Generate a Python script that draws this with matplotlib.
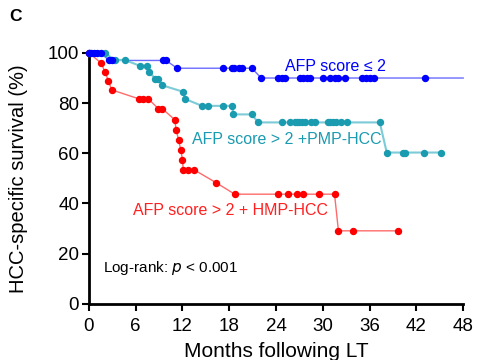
import matplotlib
matplotlib.use("Agg")
import numpy as np
import matplotlib.pyplot as plt

plt.rcParams['font.family'] = ['Liberation Sans', 'DejaVu Sans']

# AFP score <= 2
blue_t = [0, 0.3, 0.7, 1.1, 1.5, 2.6, 2.9, 9.5, 9.9, 11.3, 17.2, 18.4, 18.6, 19.3, 19.6, 20.9,
          22.1, 24.3, 24.8, 25.2, 27.1, 27.5, 28.0, 28.4, 30.0, 30.9, 31.6, 32.0, 32.9,
          35.0, 35.6, 36.1, 36.5, 43.1]
blue_s = [100, 100, 100, 100, 100, 97, 97, 97, 97, 93.9, 93.9, 93.9, 93.9, 93.9, 93.9, 93.9,
          90, 90, 90, 90, 90, 90, 90, 90, 90, 90, 90, 90, 90,
          90, 90, 90, 90, 90]
blue_end = 48

# AFP score > 2 + PMP-HCC
teal_t = [0, 2.05, 3.3, 4.6, 6.5, 7.4, 7.7, 8.5, 8.9, 9.4, 12.1, 12.3, 14.5, 15.3, 17.2, 18.4,
          18.5, 20.9, 21.7, 24.7, 25.8, 26.4, 26.7, 27.0, 27.3, 27.7, 28.5, 29.0, 30.6, 30.9,
          31.3, 31.7, 32.3, 33.1, 37.3, 38.2, 40.3, 40.6, 43.0, 45.2]
teal_s = [100, 100, 97.2, 97.2, 94.9, 94.9, 92.4, 89.8, 89.8, 87.1, 84.5, 81.7, 78.9, 78.9, 78.9, 78.9,
          75.5, 75.5, 72.3, 72.3, 72.3, 72.3, 72.3, 72.3, 72.3, 72.3, 72.3, 72.3, 72.3, 72.3,
          72.3, 72.3, 72.3, 72.3, 72.3, 60.3, 60.3, 60.3, 60.3, 60.3]

# AFP score > 2 + HMP-HCC
red_t = [0, 1.6, 2.05, 2.5, 2.9, 6.4, 7.0, 7.6, 8.9, 9.4, 11.0, 11.2, 11.5, 11.8, 12.0, 12.1,
         12.7, 13.5, 16.3, 18.7, 24.2, 25.5, 26.7, 27.5, 29.5, 31.5, 32.0, 33.9, 39.7]
red_s = [100, 95.9, 92.3, 89.0, 85.3, 81.7, 81.7, 81.7, 77.8, 77.8, 73.4, 69.3, 65.3, 61.2, 57.4, 53.4,
         53.4, 53.4, 48.3, 43.7, 43.7, 43.7, 43.7, 43.7, 43.7, 43.7, 29.1, 29.1, 29.1]

xticks = list(range(0, 49, 6))
yticks = list(range(0, 101, 20))

fig = plt.figure(figsize=(4.78, 3.6), dpi=100)
ax = fig.add_axes([0.186, 0.156, 0.783, 0.697])

# lines (lighter) then markers
ax.plot(blue_t + [blue_end], blue_s + [blue_s[-1]], color='#6a6aff', lw=1.0, zorder=2, clip_on=False)
ax.plot(teal_t, teal_s, color='#7ccbd6', lw=1.5, zorder=2, clip_on=False)
ax.plot(red_t, red_s, color='#ff6b6b', lw=1.0, zorder=2, clip_on=False)
ax.plot(teal_t, teal_s, 'o', color='#1a9bb0', ms=4.3, zorder=3, clip_on=False)
ax.plot(red_t, red_s, 'o', color='#ff0000', ms=4.3, zorder=3, clip_on=False)
ax.plot(blue_t, blue_s, 'o', color='#0000ff', ms=4.3, zorder=4, clip_on=False)

ax.text(25.2, 94.4, 'AFP score \u2264 2', color='#0000ff', fontsize=11.5, va='center')
ax.text(13.2, 65.3, 'AFP score > 2 +PMP-HCC', color='#1a9bb0', fontsize=11.5, va='center')
ax.text(5.6, 37.0, 'AFP score > 2 + HMP-HCC', color='#ff2020', fontsize=11.5, va='center')
ax.text(1.8, 14.3, 'Log-rank: $\\it{p}$ < 0.001', fontsize=11, va='center')

ax.set_xlim(0, 48)
ax.set_ylim(0, 100)
ax.set_xticks(xticks)
ax.set_yticks(yticks)
ax.spines['top'].set_visible(False)
ax.spines['right'].set_visible(False)
ax.spines['left'].set_linewidth(2)
ax.spines['bottom'].set_linewidth(2)
ax.tick_params(width=1.5, length=5, labelsize=13.5)
ax.tick_params(axis='x', pad=5.5)
ax.tick_params(axis='y', pad=2)
ax.set_xlabel('Months following LT', fontsize=15, labelpad=5)
ax.set_ylabel('HCC-specific survival (%)', fontsize=14.5, labelpad=14)

fig.text(0.02, 0.955, 'C', fontsize=12.5, fontweight='bold', va='center')

plt.savefig('out.png', dpi=100)
